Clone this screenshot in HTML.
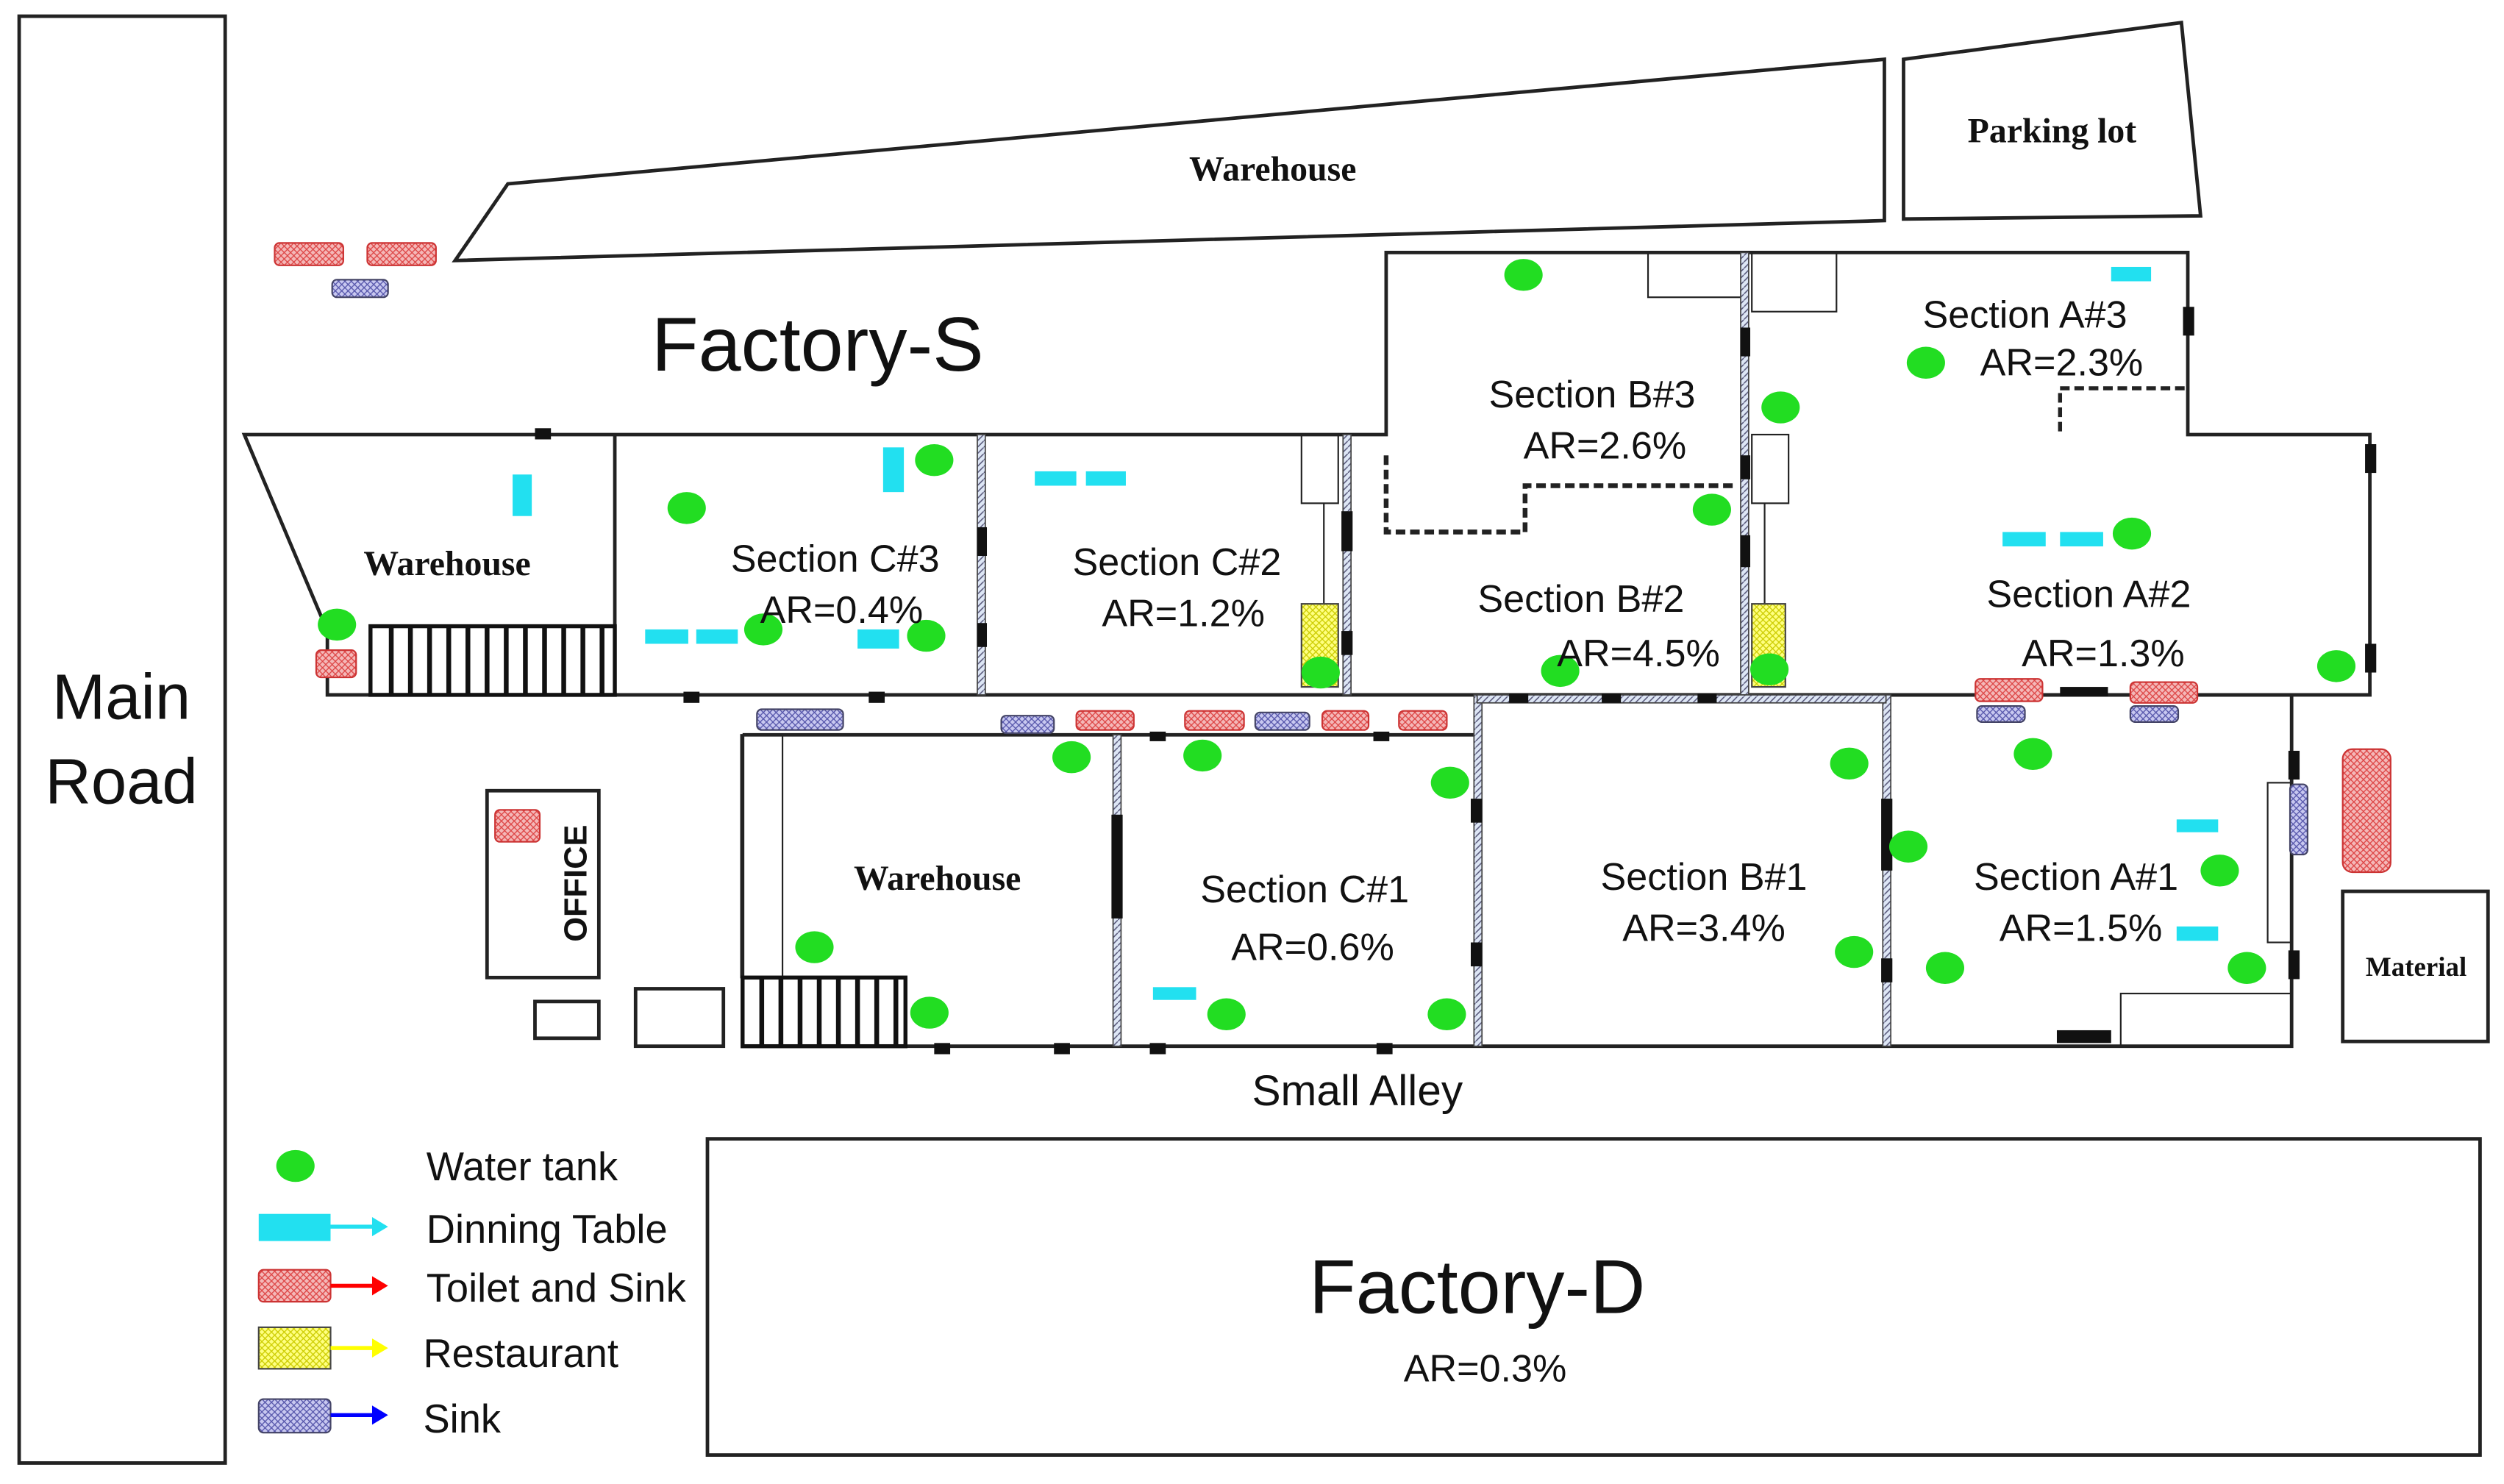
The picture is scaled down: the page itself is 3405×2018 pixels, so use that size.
<!DOCTYPE html>
<html><head><meta charset="utf-8"><style>
html,body{margin:0;padding:0;background:#fff;}
svg{display:block;}
text{font-family:"Liberation Sans",sans-serif;fill:#111;}
.s{font-family:"Liberation Serif",serif;font-weight:bold;}
</style></head><body>
<svg width="3405" height="2018" viewBox="0 0 1568 929" xmlns="http://www.w3.org/2000/svg">
<defs>
<pattern id="tp" width="4" height="4" patternUnits="userSpaceOnUse"><rect width="4" height="4" fill="#f4b8b8"/><path d="M0 0L4 4M4 0L0 4" stroke="#d44" stroke-width="0.6"/></pattern>
<pattern id="sp" width="4" height="4" patternUnits="userSpaceOnUse"><rect width="4" height="4" fill="#c8c8f0"/><path d="M0 0L4 4M4 0L0 4" stroke="#55a" stroke-width="0.6"/></pattern>
<pattern id="yp" width="4" height="4" patternUnits="userSpaceOnUse"><rect width="4" height="4" fill="#ffff80"/><path d="M0 0L4 4M4 0L0 4" stroke="#cc0" stroke-width="0.6"/></pattern>
<pattern id="hp" width="4" height="4" patternUnits="userSpaceOnUse"><rect width="4" height="4" fill="#dde6f5"/><path d="M0 4L4 0" stroke="#557" stroke-width="0.7"/></pattern>
</defs>
<g fill="none" stroke="#222" stroke-width="2.2">
<rect x="12" y="10" width="129" height="906"/>
<polygon points="285,163 318,115 1180,37 1180,138"/>
<polygon points="1192,37 1366,14 1378,135 1192,137"/>
<polyline points="205,395 153,272 868,272 868,158 1370,158 1370,272 1484,272 1484,435 205,435 205,395"/>
<line x1="385" y1="272" x2="385" y2="435"/>
<polyline points="465,460 925,460 925,435 1435,435 1435,655 465,655 465,460"/>
<rect x="443" y="713" width="1110" height="198"/>
<rect x="1467" y="558" width="91" height="94"/>
<rect x="305" y="495" width="70" height="117"/>
<rect x="335" y="627" width="40" height="23"/>
<rect x="398" y="619" width="55" height="36"/>
<rect x="1032" y="158" width="60" height="28" stroke-width="1"/>
<rect x="1097" y="158" width="53" height="37" stroke-width="1"/>
<rect x="815" y="272" width="23" height="43" stroke-width="1"/>
<rect x="1097" y="272" width="23" height="43" stroke-width="1"/>
<line x1="829" y1="315" x2="829" y2="378" stroke-width="1"/>
<line x1="1105" y1="315" x2="1105" y2="378" stroke-width="1"/>
<rect x="464" y="460" width="26" height="152" stroke-width="1"/>
<rect x="1420" y="490" width="15" height="100" stroke-width="1"/>
<rect x="1328" y="622" width="107" height="33" stroke-width="1"/>
<polyline points="868,285 868,333 955,333 955,304 1088,304" stroke-dasharray="6,3" stroke-width="3"/>
<polyline points="1290,270 1290,243 1370,243" stroke-dasharray="6,3" stroke-width="2.5"/>
</g>
<g fill="url(#hp)" stroke="#444" stroke-width="0.8">
<rect x="612" y="272" width="5" height="163"/>
<rect x="841" y="272" width="5" height="163"/>
<rect x="1090" y="158" width="5" height="277"/>
<rect x="697" y="460" width="5" height="195"/>
<rect x="923" y="435" width="5" height="220"/>
<rect x="1179" y="435" width="5" height="220"/>
<rect x="925" y="435" width="256" height="5"/>
</g>
<g fill="#111">
<rect x="335" y="268" width="10" height="7"/><rect x="428" y="433" width="10" height="7"/><rect x="544" y="433" width="10" height="7"/>
<rect x="612" y="330" width="6" height="18"/><rect x="612" y="390" width="6" height="15"/><rect x="840" y="320" width="7" height="25"/><rect x="840" y="395" width="7" height="15"/>
<rect x="1090" y="205" width="6" height="18"/><rect x="1090" y="285" width="6" height="15"/><rect x="1090" y="335" width="6" height="20"/>
<rect x="1367" y="192" width="7" height="18"/><rect x="1481" y="278" width="7" height="18"/><rect x="1481" y="403" width="7" height="18"/>
<rect x="1290" y="430" width="30" height="6"/><rect x="945" y="434" width="12" height="6"/><rect x="1003" y="434" width="12" height="6"/><rect x="1063" y="434" width="12" height="6"/>
<rect x="696" y="510" width="7" height="65"/><rect x="720" y="458" width="10" height="6"/><rect x="860" y="458" width="10" height="6"/>
<rect x="921" y="500" width="7" height="15"/><rect x="921" y="590" width="7" height="15"/><rect x="1178" y="500" width="7" height="45"/><rect x="1178" y="600" width="7" height="15"/>
<rect x="585" y="653" width="10" height="7"/><rect x="660" y="653" width="10" height="7"/><rect x="720" y="653" width="10" height="7"/><rect x="862" y="653" width="10" height="7"/><rect x="1288" y="645" width="34" height="8"/>
<rect x="1433" y="470" width="7" height="18"/><rect x="1433" y="595" width="7" height="18"/>
</g>
<g fill="#fff" stroke="#111" stroke-width="2.5">
<rect x="232" y="392" width="153" height="43"/>
<rect x="465" y="612" width="102" height="43"/>
</g>
<g stroke="#111" stroke-width="3">
<path d="M245 392V435M257 392V435M269 392V435M281 392V435M293 392V435M305 392V435M317 392V435M329 392V435M341 392V435M353 392V435M365 392V435M377 392V435"/>
<path d="M477 612V655M489 612V655M501 612V655M513 612V655M525 612V655M537 612V655M549 612V655M561 612V655"/>
</g>
<g fill="url(#yp)" stroke="#444"><rect x="815" y="378" width="23" height="52"/><rect x="1097" y="378" width="21" height="52"/></g>
<g fill="url(#tp)" stroke="#c33" stroke-width="1">
<rect x="172" y="152" width="43" height="14" rx="3"/><rect x="230" y="152" width="43" height="14" rx="3"/>
<rect x="198" y="407" width="25" height="17" rx="3"/><rect x="1237" y="425" width="42" height="14" rx="3"/><rect x="1334" y="427" width="42" height="13" rx="3"/>
<rect x="674" y="445" width="36" height="12" rx="3"/><rect x="742" y="445" width="37" height="12" rx="3"/><rect x="828" y="445" width="29" height="12" rx="3"/><rect x="876" y="445" width="30" height="12" rx="3"/>
<rect x="310" y="507" width="28" height="20" rx="3"/><rect x="1467" y="469" width="30" height="77" rx="6"/>
<rect x="162" y="795" width="45" height="20" rx="3"/>
</g>
<g fill="url(#sp)" stroke="#446" stroke-width="1">
<rect x="208" y="175" width="35" height="11" rx="3"/><rect x="474" y="444" width="54" height="13" rx="3"/><rect x="627" y="448" width="33" height="11" rx="3"/><rect x="786" y="446" width="34" height="11" rx="3"/>
<rect x="1238" y="442" width="30" height="10" rx="3"/><rect x="1334" y="442" width="30" height="10" rx="3"/><rect x="1434" y="491" width="11" height="44" rx="3"/>
<rect x="162" y="876" width="45" height="21" rx="3"/>
</g>
<rect x="162" y="831" width="45" height="26" fill="url(#yp)" stroke="#444"/>
<g fill="#22e0f0">
<rect x="321" y="297" width="12" height="26"/><rect x="553" y="280" width="13" height="28"/><rect x="648" y="295" width="26" height="9"/><rect x="680" y="295" width="25" height="9"/>
<rect x="404" y="394" width="27" height="9"/><rect x="436" y="394" width="26" height="9"/><rect x="537" y="394" width="26" height="12"/>
<rect x="1254" y="333" width="27" height="9"/><rect x="1290" y="333" width="27" height="9"/><rect x="1322" y="167" width="25" height="9"/>
<rect x="1363" y="513" width="26" height="8"/><rect x="1363" y="580" width="26" height="9"/><rect x="722" y="618" width="27" height="8"/>
<rect x="162" y="760" width="45" height="17"/>
</g>
<g stroke-width="2.5">
<line x1="207" y1="768" x2="236" y2="768" stroke="#22e0f0"/><polygon points="243,768 233,762 233,774" fill="#22e0f0"/>
<line x1="207" y1="805" x2="236" y2="805" stroke="#f00"/><polygon points="243,805 233,799 233,811" fill="#f00"/>
<line x1="207" y1="844" x2="236" y2="844" stroke="#ff0"/><polygon points="243,844 233,838 233,850" fill="#ff0"/>
<line x1="207" y1="886" x2="236" y2="886" stroke="#00f"/><polygon points="243,886 233,880 233,892" fill="#00f"/>
</g>
<g fill="#22dd22">
<ellipse cx="954" cy="172" rx="12" ry="10"/><ellipse cx="1206" cy="227" rx="12" ry="10"/><ellipse cx="1115" cy="255" rx="12" ry="10"/><ellipse cx="1072" cy="319" rx="12" ry="10"/><ellipse cx="1335" cy="334" rx="12" ry="10"/>
<ellipse cx="585" cy="288" rx="12" ry="10"/><ellipse cx="430" cy="318" rx="12" ry="10"/><ellipse cx="478" cy="394" rx="12" ry="10"/><ellipse cx="580" cy="398" rx="12" ry="10"/><ellipse cx="211" cy="391" rx="12" ry="10"/>
<ellipse cx="827" cy="421" rx="12" ry="10"/><ellipse cx="977" cy="420" rx="12" ry="10"/><ellipse cx="1108" cy="419" rx="12" ry="10"/><ellipse cx="1463" cy="417" rx="12" ry="10"/>
<ellipse cx="671" cy="474" rx="12" ry="10"/><ellipse cx="753" cy="473" rx="12" ry="10"/><ellipse cx="908" cy="490" rx="12" ry="10"/><ellipse cx="1158" cy="478" rx="12" ry="10"/><ellipse cx="1273" cy="472" rx="12" ry="10"/>
<ellipse cx="1195" cy="530" rx="12" ry="10"/><ellipse cx="1390" cy="545" rx="12" ry="10"/><ellipse cx="510" cy="593" rx="12" ry="10"/><ellipse cx="582" cy="634" rx="12" ry="10"/><ellipse cx="768" cy="635" rx="12" ry="10"/>
<ellipse cx="906" cy="635" rx="12" ry="10"/><ellipse cx="1161" cy="596" rx="12" ry="10"/><ellipse cx="1218" cy="606" rx="12" ry="10"/><ellipse cx="1407" cy="606" rx="12" ry="10"/>
<ellipse cx="185" cy="730" rx="12" ry="10"/>
</g>
<g text-anchor="middle">
<text x="76" y="450" font-size="40">Main</text><text x="76" y="503" font-size="40">Road</text>
<text class="s" x="797" y="113" font-size="22">Warehouse</text>
<text class="s" x="1285" y="89" font-size="22">Parking lot</text>
<text x="512" y="232" font-size="48">Factory-S</text>
<text class="s" x="280" y="360" font-size="22">Warehouse</text>
<text class="s" x="587" y="557" font-size="22">Warehouse</text>
<text class="s" x="1513" y="611" font-size="17">Material</text>
<text x="523" y="358" font-size="24">Section C#3</text><text x="527" y="390" font-size="24">AR=0.4%</text>
<text x="737" y="360" font-size="24">Section C#2</text><text x="741" y="392" font-size="24">AR=1.2%</text>
<text x="997" y="255" font-size="24">Section B#3</text><text x="1005" y="287" font-size="24">AR=2.6%</text>
<text x="1268" y="205" font-size="24">Section A#3</text><text x="1291" y="235" font-size="24">AR=2.3%</text>
<text x="990" y="383" font-size="24">Section B#2</text><text x="1026" y="417" font-size="24">AR=4.5%</text>
<text x="1308" y="380" font-size="24">Section A#2</text><text x="1317" y="417" font-size="24">AR=1.3%</text>
<text x="817" y="565" font-size="24">Section C#1</text><text x="822" y="601" font-size="24">AR=0.6%</text>
<text x="1067" y="557" font-size="24">Section B#1</text><text x="1067" y="589" font-size="24">AR=3.4%</text>
<text x="1300" y="557" font-size="24">Section A#1</text><text x="1303" y="589" font-size="24">AR=1.5%</text>
<text x="850" y="692" font-size="27">Small Alley</text>
<text x="925" y="822" font-size="48">Factory-D</text>
<text x="930" y="865" font-size="24">AR=0.3%</text>
<text x="362" y="553" font-size="20" font-weight="bold" transform="rotate(-90 362 553)" dominant-baseline="middle">OFFICE</text>
</g>
<g font-size="25">
<text x="267" y="739">Water tank</text><text x="267" y="778">Dinning Table</text><text x="267" y="815">Toilet and Sink</text><text x="265" y="856">Restaurant</text><text x="265" y="897">Sink</text>
</g>
</svg>
</body></html>
